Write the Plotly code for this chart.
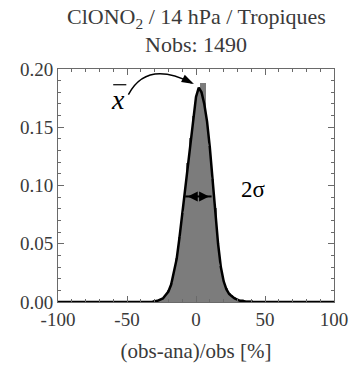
import plotly.graph_objects as go

# histogram (bin centres, relative frequency)
hist_x = [-30, -28, -26, -24, -22, -20, -18, -16, -14, -12, -10, -8, -6, -4, -2, 0, 2,
          4, 6, 8, 10, 12, 14, 16, 18, 20, 22, 24, 26, 28, 30, 32, 34, 36, 38, 40]
hist_y = [0.001, 0.001, 0.002, 0.003, 0.006, 0.010, 0.016, 0.026, 0.038, 0.056, 0.076, 0.096,
          0.119, 0.141, 0.160, 0.176, 0.183, 0.188, 0.188, 0.156, 0.134, 0.106, 0.081, 0.051,
          0.031, 0.019, 0.012, 0.008, 0.006, 0.004, 0.003, 0.002, 0.002, 0.001, 0.001, 0.001]

# fitted curve
fit_x = [-100, -32, -28, -26, -24, -22, -20, -18, -16, -14, -12, -10, -8, -6, -4, -2, 0, 2,
         4, 6, 8, 10, 12, 14, 16, 18, 20, 22, 24, 26, 28, 30, 32, 34, 36, 100]
fit_y = [0.0, 0.0, 0.001, 0.002, 0.003, 0.006, 0.009, 0.015, 0.025, 0.037, 0.055, 0.075, 0.095,
         0.118, 0.140, 0.160, 0.176, 0.184, 0.180, 0.170, 0.155, 0.133, 0.105, 0.080, 0.050,
         0.030, 0.018, 0.011, 0.007, 0.005, 0.003, 0.002, 0.001, 0.001, 0.0, 0.0]

# mean / 2-sigma markers (from the figure)
mean_val = 0.7
mean_level = 0.186
sigma_left = -7.8
sigma_right = 11.3
sigma_level = 0.0906

title_line1 = "ClONO<sub>2</sub> / 14 hPa / Tropiques"
title_line2 = "Nobs: 1490"
x_title = "(obs-ana)/obs [%]"
x_ticks = [-100, -50, 0, 50, 100]
y_ticks = [0.0, 0.05, 0.10, 0.15, 0.20]

FONT = "Liberation Serif, Times New Roman, serif"
AX = "#6a6a6a"
TXT = "#3a3a3a"

fig = go.Figure()
fig.add_trace(go.Bar(x=hist_x, y=hist_y, width=2, marker=dict(color="#7c7c7c", line=dict(width=0)),
                     showlegend=False, hoverinfo="skip"))
fig.add_trace(go.Scatter(x=fit_x, y=fit_y, mode="lines", line=dict(color="black", width=2.5),
                         showlegend=False))

# title lines
fig.add_annotation(x=0.5, y=1.218, xref="paper", yref="paper", text=title_line1, showarrow=False,
                   xanchor="center", yanchor="middle", font=dict(family=FONT, size=22, color=TXT))
fig.add_annotation(x=0.5, y=1.107, xref="paper", yref="paper", text=title_line2, showarrow=False,
                   xanchor="center", yanchor="middle", font=dict(family=FONT, size=22, color=TXT))

# curved arrow to mean
fig.add_shape(type="path", xref="x", yref="y",
              path="M -49,0.178 Q -35.8,0.208 -3.0,0.1880",
              line=dict(color="black", width=1.5))
fig.add_trace(go.Scatter(x=[mean_val - 2.2], y=[mean_level + 0.0012], mode="markers",
                         marker=dict(symbol="arrow", angle=117, size=13, color="black"),
                         showlegend=False, hoverinfo="skip"))
# x-bar label
fig.add_annotation(x=-56.5, y=0.174, xref="x", yref="y", text="<i>x</i>", showarrow=False,
                   font=dict(family=FONT, size=28, color="black"))
fig.add_shape(type="line", xref="x", yref="y", x0=-60, x1=-50.5, y0=0.1865, y1=0.1865,
              line=dict(color="black", width=1.2))

# 2 sigma double arrow
fig.add_trace(go.Scatter(x=[sigma_left, sigma_right], y=[sigma_level, sigma_level], mode="lines",
                         line=dict(color="black", width=2), showlegend=False, hoverinfo="skip"))
fig.add_trace(go.Scatter(x=[sigma_left + 1.8, sigma_right - 1.8], y=[sigma_level, sigma_level],
                         mode="markers",
                         marker=dict(symbol=["arrow-left", "arrow-right"], size=10, color="black"),
                         showlegend=False, hoverinfo="skip"))
fig.add_annotation(x=42, y=0.0966, xref="x", yref="y", text="2σ", showarrow=False,
                   font=dict(family=FONT, size=23, color="black"))

fig.update_layout(
    width=360, height=370,
    margin=dict(l=58, r=20, t=69, b=67),
    paper_bgcolor="white", plot_bgcolor="white",
    bargap=0,
    font=dict(family=FONT, size=19, color=TXT),
)
fig.update_xaxes(range=[-100, 100], tickvals=x_ticks, ticktext=[str(v) for v in x_ticks],
                 ticks="inside", ticklen=6, tickcolor=AX, mirror="ticks", showline=True,
                 linecolor=AX, linewidth=1, showgrid=False, zeroline=False,
                 minor=dict(dtick=10, ticks="inside", ticklen=3, tickcolor=AX),
                 title=dict(text=x_title, font=dict(family=FONT, size=21, color=TXT), standoff=14),
                 tickfont=dict(size=19))
fig.update_yaxes(range=[0, 0.2], tickvals=y_ticks, ticktext=["%.2f" % v for v in y_ticks],
                 ticks="inside", ticklen=6, tickcolor=AX, mirror="ticks", showline=True,
                 linecolor=AX, linewidth=1, showgrid=False, zeroline=False,
                 minor=dict(dtick=0.01, ticks="inside", ticklen=3, tickcolor=AX),
                 tickfont=dict(size=19))

fig.write_html("out.html")
